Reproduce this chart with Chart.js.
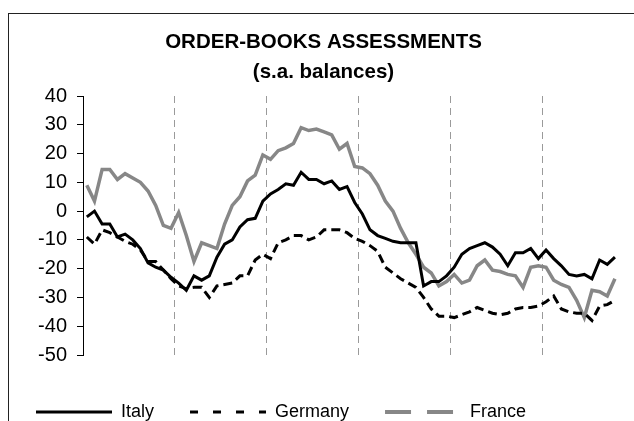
<!DOCTYPE html>
<html>
<head>
<meta charset="utf-8">
<script src="https://cdn.jsdelivr.net/npm/chart.js@4.4.0/dist/chart.umd.min.js"></script>
<style>
    html, body { margin: 0; padding: 0; background: #fff; overflow: hidden; }
    #frame { position: absolute; left: 8px; top: 13px; width: 700px; height: 500px;
             border-left: 1px solid #222; border-top: 1px solid #222; }
    #lineChart { position: absolute; left: 0; top: 0; }
</style>
</head>
<body>
<div id="frame"></div>
<canvas id="lineChart" width="634" height="431"></canvas>
<script>
// order-books balances, monthly from Jan 1998
const yearLabels = ['1998', '1999', '2000', '2001', '2002', '2003'];
const italy = [-2, 0, -4.5, -4.5, -9, -8, -10, -13, -18, -19.5,
    -20.5, -23, -25, -27.5, -22.5, -24, -22.5, -16, -11.5, -10,
    -5.5, -3, -2.5, 3.5, 6, 7.5, 9.5, 9, 13.5, 11,
    11, 9.5, 10.5, 7.5, 8.5, 3, -1, -6.5, -8.5, -9.5,
    -10.5, -11, -11, -11, -26, -24.5, -24.5, -22.5, -19.5, -15,
    -13, -12, -11, -12.5, -15, -19, -14.5, -14.5, -13, -16.5,
    -13.5, -16.5, -19, -22, -22.5, -22, -23.5, -17, -18.5, -16];
const germany = [-9, -11.5, -6.5, -7.5, -9, -10.5, -11.5, -13.5, -17.5, -17.5,
    -20.5, -23.5, -26, -27, -26.5, -26.5, -30, -26, -25.5, -25,
    -22.5, -22.5, -17, -15, -16.5, -11, -10, -8.5, -8.5, -10,
    -9, -6.5, -6.5, -6.5, -7.5, -9.5, -10.5, -12, -14, -19.5,
    -21.5, -23.5, -25, -26.5, -30, -34, -36.5, -36.5, -37, -36,
    -35, -33.5, -34.5, -35.5, -36, -35.5, -34, -33.5, -33.5, -33,
    -31.5, -29.5, -34, -35, -35.5, -35.5, -38, -33, -32.5, -31];
const france = [9, 3.5, 14.5, 14.5, 11, 13, 11.5, 10, 7, 2,
    -5, -6, -0.5, -8.5, -17.5, -11, -12, -13, -4.5, 2,
    5, 10.5, 12.5, 19.5, 18, 21, 22, 23.5, 29, 28,
    28.5, 27.5, 26.5, 21.5, 23.5, 15.5, 15, 13, 9, 3.5,
    0, -6, -11, -15, -19.5, -21.5, -26, -24.5, -22, -25,
    -24, -19, -17, -20.5, -21, -22, -22.5, -26.5, -19.5, -19,
    -19.5, -24, -25.5, -26.5, -31, -37, -27.5, -28, -29.5, -23.5];
const yMin = -50;
const yMax = 40;
const yStep = 10;

let monthLabels = [];
yearLabels.forEach(year => {
    for (let m = 1; m <= 12; m++) {
        monthLabels.push(year + '-' + m);
    }
});
monthLabels = monthLabels.slice(0, italy.length);

const canvasHeight = 431;
const plotBottom = 355;
const legendDash = [[], [8, 15], [26, 16]];

// the title sits a little right of the canvas centre in the original
const titleShift = {
    id: 'titleShift',
    afterLayout: function (chart) {
        chart.titleBlock.left += 12;
        chart.titleBlock.right += 12;
    }
};

Chart.defaults.font.family = '"Liberation Sans", Arial, sans-serif';
Chart.defaults.color = '#000';

new Chart(document.getElementById('lineChart'), {
    type: 'line',
    data: {
        labels: monthLabels,
        datasets: [
            {
                label: 'Italy',
                data: italy,
                borderColor: '#000',
                borderWidth: 3,
                pointRadius: 0,
                tension: 0
            },
            {
                label: 'Germany',
                data: germany,
                borderColor: '#000',
                borderWidth: 3,
                borderDash: [9, 5],
                pointRadius: 0,
                tension: 0
            },
            {
                label: 'France',
                data: france,
                borderColor: '#878787',
                borderWidth: 3.5,
                pointRadius: 0,
                tension: 0
            }
        ]
    },
    plugins: [titleShift],
    options: {
        responsive: false,
        animation: false,
        layout: {
            padding: {left: 0, right: 11, top: 0, bottom: 0}
        },
        plugins: {
            title: {
                display: true,
                text: ['ORDER-BOOKS ASSESSMENTS', '(s.a. balances)'],
                color: '#000',
                font: {size: 20.5, weight: 'bold', lineHeight: 30 / 20.5},
                padding: {top: 27, bottom: 9}
            },
            legend: {
                position: 'bottom',
                align: 'start',
                labels: {
                    usePointStyle: true,
                    pointStyle: 'line',
                    pointStyleWidth: 76,
                    padding: 36,
                    color: '#000',
                    font: {size: 18},
                    generateLabels: function (chart) {
                        const items = Chart.defaults.plugins.legend.labels.generateLabels(chart);
                        items.forEach((item, i) => {
                            item.lineDash = legendDash[i];
                            item.lineWidth = i === 2 ? 4 : 3;
                        });
                        return items;
                    }
                }
            },
            tooltip: {enabled: false}
        },
        scales: {
            x: {
                type: 'category',
                offset: true,
                afterFit: function (scale) {
                    scale.height = canvasHeight - scale.chart.legend.height - plotBottom;
                },
                grid: {
                    offset: true,
                    drawTicks: false,
                    lineWidth: 1,
                    color: ctx => (ctx.index > 0 && ctx.index % 12 === 0) ? '#9a9a9a' : 'rgba(0,0,0,0)'
                },
                border: {display: false, dash: [7, 5]},
                ticks: {
                    autoSkip: false,
                    maxRotation: 0,
                    padding: 19,
                    font: {size: 20},
                    color: '#000',
                    callback: function (value, index) {
                        return index % 12 === 0 ? yearLabels[index / 12] : '';
                    }
                }
            },
            y: {
                min: yMin,
                max: yMax,
                afterFit: function (scale) {
                    scale.width = 83;
                },
                grid: {
                    drawOnChartArea: false,
                    drawTicks: true,
                    tickLength: 6,
                    color: '#000'
                },
                border: {display: true, color: '#000', width: 1},
                ticks: {
                    stepSize: yStep,
                    padding: 10,
                    font: {size: 20},
                    color: '#000'
                }
            }
        }
    }
});
</script>
</body>
</html>
